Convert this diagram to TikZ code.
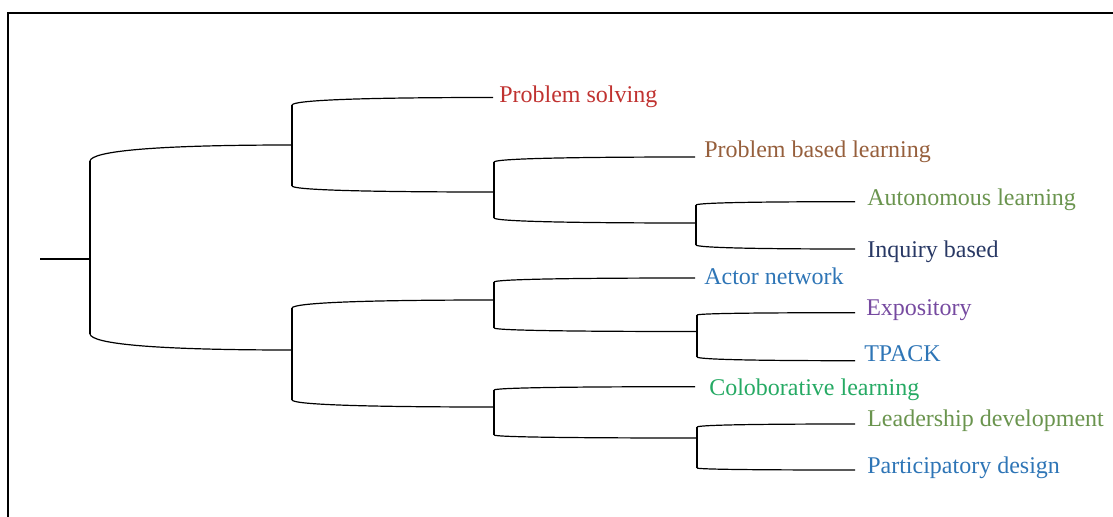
\documentclass[tikz,border=0pt]{standalone}
\usepackage{fontspec}
\setmainfont{Liberation Serif}
\usetikzlibrary{calc}

\definecolor{cRed}{RGB}{192,50,48}
\definecolor{cBrown}{RGB}{150,95,60}
\definecolor{cGreen}{RGB}{106,148,78}
\definecolor{cNavy}{RGB}{40,56,100}
\definecolor{cBlue}{RGB}{46,117,182}
\definecolor{cPurple}{RGB}{118,74,160}
\definecolor{cMint}{RGB}{38,170,100}

% one curved arm of the dendrogram, from a joint out to a child
\newcommand{\dbranch}[2]{%
  \draw[tree] let \p1=(#1), \p2=(#2) in
    (\p1) .. controls (\x1+1.2pt,{\y1+0.6*(\y2-\y1)})
             and ({\x1+0.3*(\x2-\x1)},\y2) .. (\p2);}

\begin{document}
\begin{tikzpicture}[x=0.75pt,y=-0.75pt,
  tree/.style={line width=0.9pt,black},
  frame/.style={line width=1.6pt,black},
  lbl/.style={anchor=base west,inner sep=0pt,font=\fontsize{18}{20}\selectfont}]
\useasboundingbox (0,0) rectangle (1113,517);

% outer frame (only the top and left edges fall inside the page)
\draw[frame] (8,525) -- (8,13) -- (1120,13);

% joints of the tree
\coordinate (r0) at (40,259);
\coordinate (r)  at (90,259);
\coordinate (rt) at (90,161);   \coordinate (rb) at (90,334);
\coordinate (A)  at (292,145);
\coordinate (At) at (292,105);  \coordinate (Ab) at (292,186);
\coordinate (D)  at (292,350);
\coordinate (Dt) at (292,308);  \coordinate (Db) at (292,400);
\coordinate (B)  at (494,192);
\coordinate (Bt) at (494,162);  \coordinate (Bb) at (494,218);
\coordinate (C)  at (696,223);
\coordinate (Ct) at (696,205);  \coordinate (Cb) at (696,245);
\coordinate (E)  at (494,300);
\coordinate (Et) at (494,282);  \coordinate (Eb) at (494,328);
\coordinate (F)  at (697,331.5);
\coordinate (Ft) at (697,315);  \coordinate (Fb) at (697,357);
\coordinate (G)  at (494,407);
\coordinate (Gt) at (494,390);  \coordinate (Gb) at (494,435);
\coordinate (H)  at (697,438);
\coordinate (Ht) at (697,427);  \coordinate (Hb) at (697,468);

% leaf line ends
\coordinate (ePS) at (493,97.5);
\coordinate (ePB) at (695,157);
\coordinate (eAL) at (855,201.7);
\coordinate (eIB) at (855,249);
\coordinate (eAN) at (695,278);
\coordinate (eEX) at (855,312.7);
\coordinate (eTP) at (855,360.7);
\coordinate (eCL) at (695,386.7);
\coordinate (eLD) at (855,424);
\coordinate (ePD) at (855,470);

% labels
\node[lbl,text=cRed]    (ps) at (499,103)   {Problem solving};
\node[lbl,text=cBrown]  (pb) at (704,157)   {Problem based learning};
\node[lbl,text=cGreen]  (al) at (867,205)   {Autonomous learning};
\node[lbl,text=cNavy]   (ib) at (867,257)   {Inquiry based};
\node[lbl,text=cBlue]   (an) at (704,284)   {Actor network};
\node[lbl,text=cPurple] (ex) at (866,315)   {Expository};
\node[lbl,text=cBlue]   (tp) at (864,361.5) {TPACK};
\node[lbl,text=cMint]   (cl) at (709,395)   {Coloborative learning};
\node[lbl,text=cGreen]  (ld) at (867,426.5) {Leadership development};
\node[lbl,text=cBlue]   (pd) at (867,473)   {Participatory design};

% stem and vertical bars
\draw[tree] (r0) -- (r);
\draw[tree] (rt) -- (rb);
\draw[tree] (At) -- (Ab);
\draw[tree] (Dt) -- (Db);
\draw[tree] (Bt) -- (Bb);
\draw[tree] (Ct) -- (Cb);
\draw[tree] (Et) -- (Eb);
\draw[tree] (Ft) -- (Fb);
\draw[tree] (Gt) -- (Gb);
\draw[tree] (Ht) -- (Hb);

% curved arms
\dbranch{rt}{A}
\dbranch{rb}{D}
\dbranch{At}{ePS}
\dbranch{Ab}{B}
\dbranch{Bt}{ePB}
\dbranch{Bb}{C}
\dbranch{Ct}{eAL}
\dbranch{Cb}{eIB}
\dbranch{Dt}{E}
\dbranch{Db}{G}
\dbranch{Et}{eAN}
\dbranch{Eb}{F}
\dbranch{Ft}{eEX}
\dbranch{Fb}{eTP}
\dbranch{Gt}{eCL}
\dbranch{Gb}{H}
\dbranch{Ht}{eLD}
\dbranch{Hb}{ePD}
\end{tikzpicture}
\end{document}
